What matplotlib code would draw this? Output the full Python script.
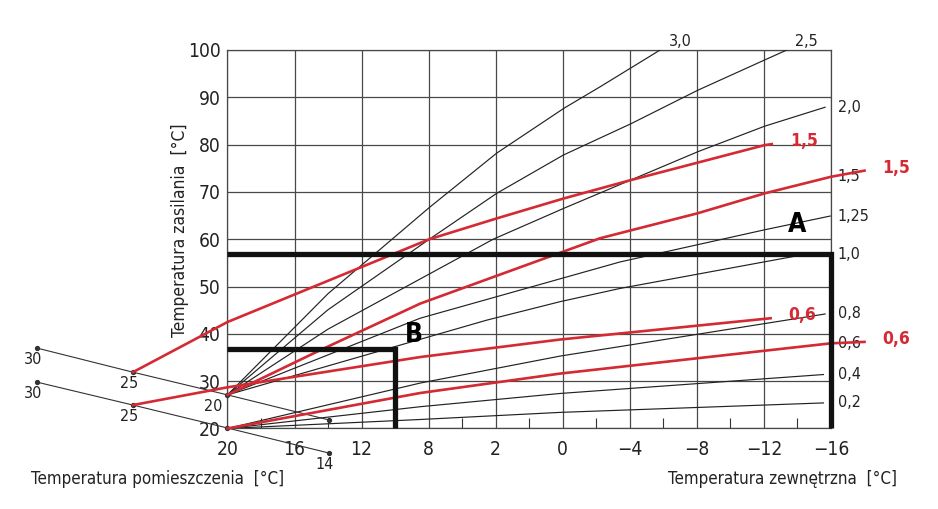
import matplotlib
matplotlib.use("Agg")
import matplotlib.pyplot as plt

# outdoor temperature axis (the printed "2" in place of 4 is kept as in the original)
x_ticks = [20, 16, 12, 8, 4, 0, -4, -8, -12, -16]
x_tick_labels = ["20", "16", "12", "8", "2", "0", "\u22124", "\u22128", "\u221212", "\u221216"]
x_minor = [18, 14, 10, 6, 2, -2, -6, -10, -14]
y_ticks = [20, 30, 40, 50, 60, 70, 80, 90, 100]

# heating curves (outdoor temp, supply temp)
curve_labels = ["3,0", "2,5", "2,0", "1,5", "1,25", "1,0", "0,8", "0,6", "0,4", "0,2"]
curve_t = [
    [20, 14, 7.96, 3.94, -0.08, -2.22, -5.81],
    [20, 14, 7.96, 3.94, -0.04, -4.06, -8.06, -12.05, -13.37],
    [20, 14, 4.15, -0.04, -8.06, -12.05, -15.65],
    [20, 14.5, 8.5, -2.22, -8.06, -12.05, -16],
    [20, 8.51, -3.42, -12.05, -15.95],
    [20, 4.53, 0.16, -3.42, -14.3],
    [20, 8.5, 0.16, -15.65],
    [20, 8.5, 0.16, -16],
    [20, 8.5, 0.16, -15.55],
    [20, 8.5, 0.16, -15.55],
]
curve_v = [
    [27.1, 48.5, 66.7, 78.2, 87.7, 92.2, 100],
    [27.1, 45.1, 60.0, 69.7, 77.8, 84.4, 91.5, 97.9, 100],
    [27.1, 41.0, 60.0, 66.5, 78.5, 83.9, 87.9],
    [27.1, 36.5, 46.4, 60.2, 65.5, 69.7, 73.2],
    [27.1, 43.3, 55.2, 62.0, 64.9],
    [27.1, 42.9, 46.8, 49.6, 56.7],
    [20, 29.6, 35.3, 44.2],
    [20, 27.5, 31.6, 38.0],
    [20, 24.6, 27.4, 31.4],
    [20, 21.9, 23.4, 25.4],
]

# highlighted (red) curves
red_labels = ["1,5", "1,5", "0,6", "0,6"]
red_t = [
    [25.64, 20, 7.96, 3.94, -0.04, -4.06, -8.06, -12.05, -12.47],
    [20, 14.5, 8.5, -2.22, -8.06, -12.05, -16, -18.0],
    [25.64, 20, 8.5, 0.16, -12.4],
    [20, 8.5, 0.16, -16, -18.0],
]
red_v = [
    [31.9, 42.5, 60.0, 64.4, 68.6, 72.5, 76.2, 79.9, 80.1],
    [27.1, 36.5, 46.4, 60.2, 65.5, 69.7, 73.2, 74.5],
    [24.95, 28.7, 35.1, 38.8, 43.3],
    [20, 27.5, 31.6, 38.0, 38.3],
]

# room temperature scales (left nomogram)
room_upper = ["30", "25", "20", ""]
room_lower = ["30", "25", "", "14"]
room_t = [31.37, 25.64, 20, 13.94]
room_upper_v = [37.0, 31.9, 27.1, 21.8]
room_lower_v = [29.8, 24.95, 20.1, 14.8]

# operating ranges A and B (outdoor limit, supply limit)
range_labels = ["A", "B"]
range_t = [-16, 10]
range_v = [56.8, 36.8]

RED = "#d42a34"
INK = "#222222"
plt.rcParams['font.family'] = ['Liberation Sans Narrow', 'DejaVu Sans']
plt.rcParams['font.stretch'] = 'condensed'

fig = plt.figure(figsize=(9.38, 5.09), dpi=100)
ax = fig.add_axes([0.2425, 0.1582, 0.6434, 0.7436])
ax.set_xlim(20, -16)
ax.set_ylim(20, 100)

ax.set_xticks(x_ticks)
ax.set_xticklabels(x_tick_labels)
ax.set_yticks(y_ticks)
ax.tick_params(length=0, labelsize=13.8, colors=INK, pad=5)
ax.tick_params(axis="x", pad=8)
ax.set_xticks(x_minor, minor=True)
ax.tick_params(axis="x", which="minor", direction="in", length=7, width=0.8, color="#333333")
ax.grid(True, color="#484848", linewidth=0.9)
for s in ax.spines.values():
    s.set_color("#484848")
    s.set_linewidth(0.9)

for lab, t, v in zip(curve_labels, curve_t, curve_v):
    ax.plot(t, v, color=INK, linewidth=0.85, zorder=3)
    if v[-1] >= 100:
        ax.annotate(lab, (t[-1], v[-1]), xytext=(6, 1), textcoords="offset points",
                    fontsize=11.5, color=INK, ha="left", va="bottom", annotation_clip=False)
    else:
        ax.annotate(lab, (-16, v[-1]), xytext=(5, 0), textcoords="offset points",
                    fontsize=11.5, color=INK, ha="left", va="center", annotation_clip=False)

for lab, t, v in zip(red_labels, red_t, red_v):
    ax.plot(t, v, color=RED, linewidth=1.9, zorder=4, clip_on=False)
    ax.annotate(lab, (t[-1], v[-1]), xytext=(13, 2), textcoords="offset points",
                fontsize=12.5, fontweight="bold", color=RED, ha="left", va="center",
                annotation_clip=False)

# thick range frames
for lab, t, v in zip(range_labels, range_t, range_v):
    ax.plot([20, t, t], [v, v, 20], color="#111111", linewidth=3.8, zorder=5,
            clip_on=False, solid_capstyle="butt", solid_joinstyle="miter")
ax.text(-14.0, 63.0, range_labels[0], fontsize=19, fontweight="bold", ha="center", va="center")
ax.text(8.9, 39.7, range_labels[1], fontsize=19, fontweight="bold", ha="center", va="center")

# room temperature nomogram outside the axes
for vals, labs in [(room_upper_v, room_upper), (room_lower_v, room_lower)]:
    ax.plot(room_t, vals, color="#333333", linewidth=0.8, marker="o", markersize=2.8,
            clip_on=False, zorder=3)
    for t, v, lab in zip(room_t, vals, labs):
        if lab:
            dx = -10 if lab == "20" else -3
            ax.annotate(lab, (t, v), xytext=(dx, -3), textcoords="offset points",
                        fontsize=11.5, color=INK, ha="center", va="top",
                        annotation_clip=False)

fig.text(180 / 938, 1 - 230 / 509, "Temperatura zasilania  [°C]", rotation=90,
         fontsize=12.5, color=INK, ha="center", va="center")
fig.text(31 / 938, 1 - 479 / 509, "Temperatura pomieszczenia  [°C]",
         fontsize=12.2, color=INK, ha="left", va="center")
fig.text(897 / 938, 1 - 479 / 509, "Temperatura zewnętrzna  [°C]",
         fontsize=12.2, color=INK, ha="right", va="center")

fig.savefig("out.png", dpi=100)
